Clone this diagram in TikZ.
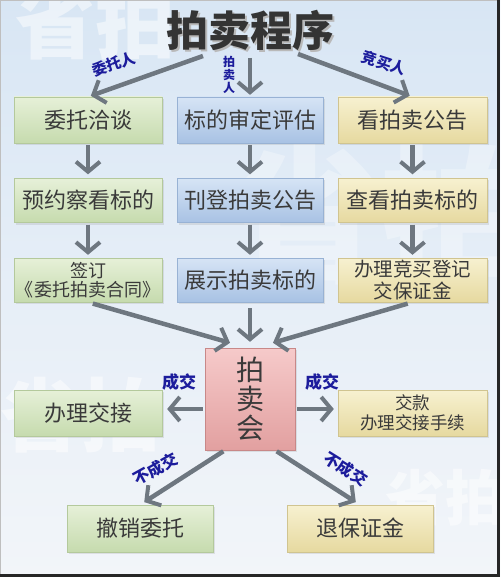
\documentclass[tikz,border=0pt]{standalone}
\usepackage{fontspec}
\setmainfont{Noto Sans CJK SC}
\usetikzlibrary{arrows.meta,calc,shadows}
\definecolor{arrgray}{HTML}{6E7780}
\definecolor{lblue}{HTML}{1C1C9C}
\definecolor{txt}{HTML}{3A3A3A}
\definecolor{gT}{HTML}{E6F0D8}\definecolor{gB}{HTML}{C6DBAE}\definecolor{gD}{HTML}{B4C99C}
\definecolor{bT}{HTML}{D6E4F5}\definecolor{bB}{HTML}{A8C2E4}\definecolor{bD}{HTML}{98B2D4}
\definecolor{yT}{HTML}{F7F1D0}\definecolor{yB}{HTML}{E6D9A0}\definecolor{yD}{HTML}{D0C490}
\definecolor{pT}{HTML}{F6CACA}\definecolor{pB}{HTML}{E2A0A0}\definecolor{pD}{HTML}{C88888}
\definecolor{bgT}{HTML}{D8E6F4}\definecolor{bgM}{HTML}{E6EEF7}\definecolor{bgB}{HTML}{F2F5F9}
\tikzset{
  box/.style={minimum width=148pt, minimum height=46pt, inner sep=0pt, align=center,
    text=txt, font=\fontsize{22}{24}\selectfont,
    drop shadow={shadow xshift=2pt, shadow yshift=-2pt, opacity=0.18}},
  gbox/.style={box, top color=gT, bottom color=gB, draw=gD},
  bbox/.style={box, top color=bT, bottom color=bB, draw=bD},
  ybox/.style={box, top color=yT, bottom color=yB, draw=yD},
  arr/.style={draw=arrgray, line width=4.5pt, -{Straight Barb[length=10pt,width=24pt,line width=4pt]}},
  lbl/.style={text=lblue, font=\fontsize{15}{16}\selectfont\bfseries, inner sep=0pt},
  wm/.style={text=white, opacity=0.5, font=\fontsize{80}{80}\selectfont\bfseries, inner sep=0pt}
}
\begin{document}
\begin{tikzpicture}[x=1pt,y=-1pt]
\useasboundingbox (0,0) rectangle (500,577);
% background
\shade[top color=bgT, bottom color=bgB, middle color=bgM] (0,0) rectangle (500,577);
% watermarks
\node[wm] (w1) at (95,22) {省拍};
\node[wm, font=\fontsize{150}{150}\selectfont\bfseries, opacity=0.3] (w2) at (380,215) {省拍};
\node[wm] (w3) at (80,415) {省拍};
\node[wm, font=\fontsize{60}{60}\selectfont\bfseries] (w4) at (445,498) {省拍};
% frame
\draw[gray!50, line width=1pt] (0.5,577) -- (0.5,0.5) -- (500,0.5);
\draw[black!85, line width=3pt] (498.5,0) -- (498.5,575.5) -- (0,575.5);
% title
\node[text=gray!55, font=\fontsize{42}{44}\selectfont\bfseries] (tsh) at (252,32) {拍卖程序};
\node[text=txt!90!black, font=\fontsize{42}{44}\selectfont\bfseries] (title) at (250,30) {拍卖程序};
\coordinate (t1) at (203,56);
\coordinate (t2) at (250,58);
\coordinate (t3) at (298,54);
% boxes
\node[gbox] (a1) at (88,120) {委托洽谈};
\node[bbox, minimum width=146pt] (b1) at (250,120) {标的审定评估};
\node[ybox, minimum width=149pt] (c1) at (412.5,120) {看拍卖公告};
\node[gbox, minimum height=44pt] (a2) at (88,200.5) {预约察看标的};
\node[bbox, minimum width=146pt, minimum height=44pt] (b2) at (250,200.5) {刊登拍卖公告};
\node[ybox, minimum width=149pt, minimum height=44pt] (c2) at (412.5,200.5) {查看拍卖标的};
\node[gbox, minimum height=44pt, font=\fontsize{18}{19}\selectfont] (a3) at (88,280) {签订\\《委托拍卖合同》};
\node[bbox, minimum width=146pt, minimum height=44pt] (b3) at (250,280) {展示拍卖标的};
\node[ybox, minimum width=149pt, minimum height=44pt, font=\fontsize{19.5}{22}\selectfont] (c3) at (412.5,280) {办理竞买登记\\交保证金};
\node[box, top color=pT, bottom color=pB, draw=pD, minimum width=90pt, minimum height=102pt, font=\fontsize{28}{29}\selectfont] (auc) at (250,399) {拍\\卖\\会};
\node[gbox] (d) at (88,413) {办理交接};
\node[ybox, minimum width=149pt, font=\fontsize{17.5}{20}\selectfont] (e) at (412.5,413) {交款\\办理交接手续};
\node[gbox, minimum width=146pt, minimum height=47pt] (f) at (140,528.5) {撤销委托};
\node[ybox, minimum width=146pt, minimum height=47pt] (g) at (360,528.5) {退保证金};
% arrows
\draw[arr, shorten >=3pt] (t1) -- (a1.north);
\draw[arr, shorten >=2pt] (t2) -- (b1.north);
\draw[arr, shorten >=3pt] (t3) -- (c1.north);
\draw[arr, shorten <=2pt, shorten >=4pt] (a1.south) -- (a2.north);
\draw[arr, shorten <=2pt, shorten >=4pt] (b1.south) -- (b2.north);
\draw[arr, shorten <=2pt, shorten >=4pt] (c1.south) -- (c2.north);
\draw[arr, shorten <=2pt, shorten >=3pt] (a2.south) -- (a3.north);
\draw[arr, shorten <=2pt, shorten >=3pt] (b2.south) -- (b3.north);
\draw[arr, shorten <=2pt, shorten >=3pt] (c2.south) -- (c3.north);
\draw[arr, shorten <=5pt] (a3.south) -- ([xshift=-20pt,yshift=5pt]auc.north);
\draw[arr, shorten <=6pt] (b3.south) -- ([yshift=6pt]auc.north);
\draw[arr, shorten <=5pt] (c3.south) -- ([xshift=23pt,yshift=5pt]auc.north);
\draw[arr, shorten <=2pt, shorten >=5pt] ([yshift=-10pt]auc.west) -- ([yshift=-10pt]auc.west -| d.east);
\draw[arr, shorten <=2pt, shorten >=4pt] ([yshift=-10pt]auc.east) -- ([yshift=-10pt]auc.east -| e.west);
\draw[arr, shorten <=2pt, shorten >=5pt] ([xshift=-25pt]auc.south) -- (f.north);
\draw[arr, shorten <=2pt, shorten >=5pt] ([xshift=25pt]auc.south) -- (g.north);
% labels
\node[lbl, rotate=18] (l1) at (114,64) {委托人};
\node[lbl, font=\fontsize{12}{13}\selectfont\bfseries, align=center] (l2) at (229,75) {拍\\卖\\人};
\node[lbl, rotate=-18] (l3) at (384,63) {竞买人};
\node[lbl, font=\fontsize{17}{18}\selectfont\bfseries] (l4) at (179,382) {成交};
\node[lbl, font=\fontsize{17}{18}\selectfont\bfseries] (l5) at (322,382) {成交};
\node[lbl, rotate=29, font=\fontsize{16}{17}\selectfont\bfseries] (l6) at (156,469) {不成交};
\node[lbl, rotate=-32, font=\fontsize{16}{17}\selectfont\bfseries] (l7) at (346,469) {不成交};
\end{tikzpicture}
\end{document}
